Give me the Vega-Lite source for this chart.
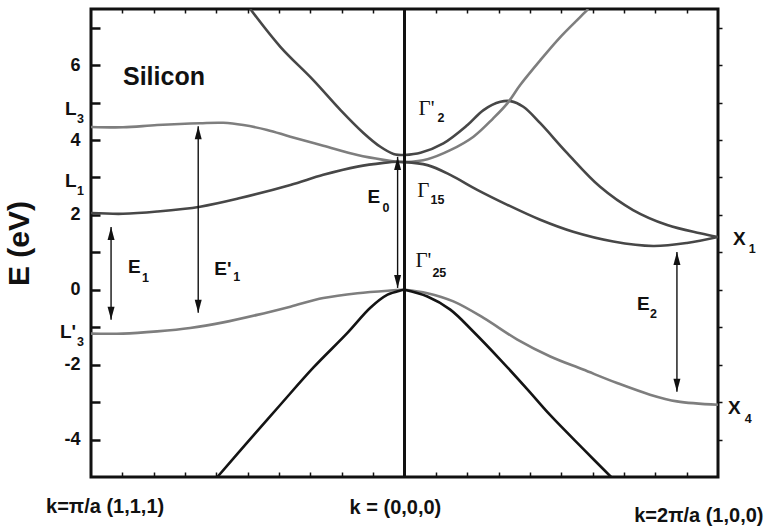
{
  "$schema": "https://vega.github.io/schema/vega-lite/v6.json",
  "width": 627,
  "height": 468,
  "autosize": {"type": "none"},
  "padding": {"left": 91, "top": 9, "right": 48, "bottom": 50},
  "background": "white",
  "config": {
    "view": {"stroke": "#111111", "strokeWidth": 3},
    "axis": {
      "domain": false,
      "grid": false,
      "tickColor": "#111111",
      "tickWidth": 1.5,
      "labelFont": "Liberation Sans",
      "labelFontWeight": "bold",
      "labelFontSize": 18,
      "labelColor": "#111111",
      "titleFont": "Liberation Sans",
      "titleColor": "#111111"
    }
  },
  "datasets": {
    "bands": [
      {"curve": "Lup", "shade": "dark", "k": -0.492, "E": 7.5},
      {"curve": "Lup", "shade": "dark", "k": -0.396, "E": 6.49},
      {"curve": "Lup", "shade": "dark", "k": -0.291, "E": 5.6},
      {"curve": "Lup", "shade": "dark", "k": -0.204, "E": 4.8},
      {"curve": "Lup", "shade": "dark", "k": -0.131, "E": 4.19},
      {"curve": "Lup", "shade": "dark", "k": -0.077, "E": 3.82},
      {"curve": "Lup", "shade": "dark", "k": -0.035, "E": 3.63},
      {"curve": "Lup", "shade": "dark", "k": 0, "E": 3.6},

      {"curve": "L3", "shade": "light", "k": -1, "E": 4.35},
      {"curve": "L3", "shade": "light", "k": -0.898, "E": 4.34},
      {"curve": "L3", "shade": "light", "k": -0.789, "E": 4.4},
      {"curve": "L3", "shade": "light", "k": -0.652, "E": 4.45},
      {"curve": "L3", "shade": "light", "k": -0.578, "E": 4.46},
      {"curve": "L3", "shade": "light", "k": -0.514, "E": 4.4},
      {"curve": "L3", "shade": "light", "k": -0.438, "E": 4.27},
      {"curve": "L3", "shade": "light", "k": -0.364, "E": 4.09},
      {"curve": "L3", "shade": "light", "k": -0.259, "E": 3.85},
      {"curve": "L3", "shade": "light", "k": -0.15, "E": 3.6},
      {"curve": "L3", "shade": "light", "k": -0.067, "E": 3.47},
      {"curve": "L3", "shade": "light", "k": -0.022, "E": 3.42},
      {"curve": "L3", "shade": "light", "k": 0, "E": 3.41},

      {"curve": "L1", "shade": "dark", "k": -1, "E": 2.05},
      {"curve": "L1", "shade": "dark", "k": -0.898, "E": 2.03},
      {"curve": "L1", "shade": "dark", "k": -0.789, "E": 2.09},
      {"curve": "L1", "shade": "dark", "k": -0.652, "E": 2.22},
      {"curve": "L1", "shade": "dark", "k": -0.524, "E": 2.45},
      {"curve": "L1", "shade": "dark", "k": -0.364, "E": 2.8},
      {"curve": "L1", "shade": "dark", "k": -0.259, "E": 3.07},
      {"curve": "L1", "shade": "dark", "k": -0.15, "E": 3.29},
      {"curve": "L1", "shade": "dark", "k": -0.067, "E": 3.39},
      {"curve": "L1", "shade": "dark", "k": -0.022, "E": 3.42},
      {"curve": "L1", "shade": "dark", "k": 0, "E": 3.41},

      {"curve": "L3p", "shade": "light", "k": -1, "E": -1.17},
      {"curve": "L3p", "shade": "light", "k": -0.898, "E": -1.17},
      {"curve": "L3p", "shade": "light", "k": -0.789, "E": -1.11},
      {"curve": "L3p", "shade": "light", "k": -0.684, "E": -1.02},
      {"curve": "L3p", "shade": "light", "k": -0.578, "E": -0.87},
      {"curve": "L3p", "shade": "light", "k": -0.47, "E": -0.67},
      {"curve": "L3p", "shade": "light", "k": -0.364, "E": -0.45},
      {"curve": "L3p", "shade": "light", "k": -0.259, "E": -0.22},
      {"curve": "L3p", "shade": "light", "k": -0.15, "E": -0.09},
      {"curve": "L3p", "shade": "light", "k": -0.045, "E": -0.02},
      {"curve": "L3p", "shade": "light", "k": 0, "E": 0},

      {"curve": "Lv", "shade": "black", "k": -0.597, "E": -5.0},
      {"curve": "Lv", "shade": "black", "k": -0.502, "E": -4.08},
      {"curve": "Lv", "shade": "black", "k": -0.396, "E": -3.07},
      {"curve": "Lv", "shade": "black", "k": -0.291, "E": -2.08},
      {"curve": "Lv", "shade": "black", "k": -0.182, "E": -1.15},
      {"curve": "Lv", "shade": "black", "k": -0.109, "E": -0.48},
      {"curve": "Lv", "shade": "black", "k": -0.054, "E": -0.13},
      {"curve": "Lv", "shade": "black", "k": -0.013, "E": -0.02},
      {"curve": "Lv", "shade": "black", "k": 0, "E": 0},

      {"curve": "Rg2", "shade": "dark", "k": 0, "E": 3.6},
      {"curve": "Rg2", "shade": "dark", "k": 0.051, "E": 3.66},
      {"curve": "Rg2", "shade": "dark", "k": 0.124, "E": 3.91},
      {"curve": "Rg2", "shade": "dark", "k": 0.201, "E": 4.4},
      {"curve": "Rg2", "shade": "dark", "k": 0.252, "E": 4.8},
      {"curve": "Rg2", "shade": "dark", "k": 0.306, "E": 5.02},
      {"curve": "Rg2", "shade": "dark", "k": 0.338, "E": 5.04},
      {"curve": "Rg2", "shade": "dark", "k": 0.379, "E": 4.89},
      {"curve": "Rg2", "shade": "dark", "k": 0.433, "E": 4.45},
      {"curve": "Rg2", "shade": "dark", "k": 0.519, "E": 3.65},
      {"curve": "Rg2", "shade": "dark", "k": 0.624, "E": 2.75},
      {"curve": "Rg2", "shade": "dark", "k": 0.729, "E": 2.13},
      {"curve": "Rg2", "shade": "dark", "k": 0.838, "E": 1.73},
      {"curve": "Rg2", "shade": "dark", "k": 0.943, "E": 1.51},
      {"curve": "Rg2", "shade": "dark", "k": 1, "E": 1.41},

      {"curve": "Rg15u", "shade": "light", "k": 0, "E": 3.41},
      {"curve": "Rg15u", "shade": "light", "k": 0.073, "E": 3.49},
      {"curve": "Rg15u", "shade": "light", "k": 0.146, "E": 3.73},
      {"curve": "Rg15u", "shade": "light", "k": 0.22, "E": 4.09},
      {"curve": "Rg15u", "shade": "light", "k": 0.283, "E": 4.58},
      {"curve": "Rg15u", "shade": "light", "k": 0.328, "E": 4.98},
      {"curve": "Rg15u", "shade": "light", "k": 0.369, "E": 5.47},
      {"curve": "Rg15u", "shade": "light", "k": 0.433, "E": 6.13},
      {"curve": "Rg15u", "shade": "light", "k": 0.497, "E": 6.75},
      {"curve": "Rg15u", "shade": "light", "k": 0.561, "E": 7.29},
      {"curve": "Rg15u", "shade": "light", "k": 0.586, "E": 7.5},

      {"curve": "Rg15d", "shade": "dark", "k": 0, "E": 3.41},
      {"curve": "Rg15d", "shade": "dark", "k": 0.073, "E": 3.33},
      {"curve": "Rg15d", "shade": "dark", "k": 0.146, "E": 3.07},
      {"curve": "Rg15d", "shade": "dark", "k": 0.232, "E": 2.67},
      {"curve": "Rg15d", "shade": "dark", "k": 0.328, "E": 2.27},
      {"curve": "Rg15d", "shade": "dark", "k": 0.433, "E": 1.87},
      {"curve": "Rg15d", "shade": "dark", "k": 0.538, "E": 1.55},
      {"curve": "Rg15d", "shade": "dark", "k": 0.666, "E": 1.29},
      {"curve": "Rg15d", "shade": "dark", "k": 0.793, "E": 1.17},
      {"curve": "Rg15d", "shade": "dark", "k": 0.901, "E": 1.25},
      {"curve": "Rg15d", "shade": "dark", "k": 1, "E": 1.41},

      {"curve": "Rg25", "shade": "light", "k": 0, "E": 0},
      {"curve": "Rg25", "shade": "light", "k": 0.073, "E": -0.09},
      {"curve": "Rg25", "shade": "light", "k": 0.156, "E": -0.31},
      {"curve": "Rg25", "shade": "light", "k": 0.252, "E": -0.75},
      {"curve": "Rg25", "shade": "light", "k": 0.36, "E": -1.33},
      {"curve": "Rg25", "shade": "light", "k": 0.465, "E": -1.78},
      {"curve": "Rg25", "shade": "light", "k": 0.57, "E": -2.13},
      {"curve": "Rg25", "shade": "light", "k": 0.678, "E": -2.49},
      {"curve": "Rg25", "shade": "light", "k": 0.783, "E": -2.8},
      {"curve": "Rg25", "shade": "light", "k": 0.869, "E": -2.98},
      {"curve": "Rg25", "shade": "light", "k": 1, "E": -3.07},

      {"curve": "Rv", "shade": "black", "k": 0, "E": 0},
      {"curve": "Rv", "shade": "black", "k": 0.073, "E": -0.18},
      {"curve": "Rv", "shade": "black", "k": 0.146, "E": -0.53},
      {"curve": "Rv", "shade": "black", "k": 0.22, "E": -1.12},
      {"curve": "Rv", "shade": "black", "k": 0.306, "E": -1.87},
      {"curve": "Rv", "shade": "black", "k": 0.392, "E": -2.66},
      {"curve": "Rv", "shade": "black", "k": 0.465, "E": -3.35},
      {"curve": "Rv", "shade": "black", "k": 0.57, "E": -4.25},
      {"curve": "Rv", "shade": "black", "k": 0.659, "E": -5.0}
    ],
    "arrows": [
      {"name": "E1", "k": -0.936, "E": 1.68, "E2": -0.8},
      {"name": "E'1", "k": -0.658, "E": 4.37, "E2": -0.61},
      {"name": "E0", "k": -0.022, "E": 3.55, "E2": 0.05},
      {"name": "E2", "k": 0.869, "E": 1.01, "E2": -2.72}
    ],
    "labels": [
      {"text": "Silicon", "k": -0.898, "E": 5.47, "kind": "title"},
      {"text": "L", "k": -1.083, "E": 4.67, "kind": "main"},
      {"text": "3", "k": -1.045, "E": 4.45, "kind": "sub"},
      {"text": "L", "k": -1.083, "E": 2.75, "kind": "main"},
      {"text": "1", "k": -1.045, "E": 2.53, "kind": "sub"},
      {"text": "L'", "k": -1.099, "E": -1.28, "kind": "main"},
      {"text": "3", "k": -1.045, "E": -1.49, "kind": "sub"},
      {"text": "E", "k": -0.882, "E": 0.45, "kind": "main"},
      {"text": "1", "k": -0.837, "E": 0.21, "kind": "sub"},
      {"text": "E'", "k": -0.607, "E": 0.4, "kind": "main"},
      {"text": "1", "k": -0.546, "E": 0.24, "kind": "sub"},
      {"text": "E", "k": -0.118, "E": 2.32, "kind": "main"},
      {"text": "0", "k": -0.07, "E": 2.08, "kind": "sub"},
      {"text": "E", "k": 0.742, "E": -0.53, "kind": "main"},
      {"text": "2", "k": 0.783, "E": -0.75, "kind": "sub"},
      {"text": "Γ'", "k": 0.045, "E": 4.67, "kind": "gamma"},
      {"text": "2", "k": 0.105, "E": 4.48, "kind": "sub"},
      {"text": "Γ", "k": 0.041, "E": 2.48, "kind": "gamma"},
      {"text": "15", "k": 0.083, "E": 2.29, "kind": "sub"},
      {"text": "Γ'", "k": 0.035, "E": 0.61, "kind": "gamma"},
      {"text": "25", "k": 0.089, "E": 0.35, "kind": "sub"},
      {"text": "X", "k": 1.048, "E": 1.2, "kind": "main"},
      {"text": "1", "k": 1.098, "E": 0.99, "kind": "sub"},
      {"text": "X", "k": 1.032, "E": -3.33, "kind": "main"},
      {"text": "4", "k": 1.085, "E": -3.57, "kind": "sub"},
      {"text": "k=π/a (1,1,1)", "k": -0.955, "E": -5.95, "kind": "klabel"},
      {"text": "k = (0,0,0)", "k": -0.029, "E": -6.0, "kind": "klabel"},
      {"text": "k=2π/a (1,0,0)", "k": 0.939, "E": -6.21, "kind": "klabel"}
    ]
  },
  "resolve": {"axis": {"x": "independent", "y": "independent"}},
  "encoding": {
    "x": {"field": "k", "type": "quantitative", "scale": {"domain": [-1, 1], "nice": false, "zero": false}, "axis": null},
    "y": {"field": "E", "type": "quantitative", "scale": {"domain": [-5, 7.5], "nice": false, "zero": false}, "axis": null}
  },
  "layer": [
    {
      "data": {"name": "bands"},
      "mark": {"type": "line", "interpolate": "catmull-rom", "strokeWidth": 2.6, "clip": true},
      "encoding": {
        "x": {
          "field": "k", "type": "quantitative",
          "scale": {"domain": [-1, 1], "nice": false, "zero": false},
          "axis": {
            "orient": "bottom", "title": null, "labels": false,
            "values": [-0.9, -0.8, -0.7, -0.6, -0.5, -0.4, -0.3, -0.2, -0.1, 0.1, 0.2, 0.3, 0.4, 0.5, 0.6, 0.7, 0.8, 0.9],
            "tickSize": -5
          }
        },
        "y": {
          "field": "E", "type": "quantitative",
          "scale": {"domain": [-5, 7.5], "nice": false, "zero": false},
          "axis": {
            "orient": "left",
            "values": [-4, -3, -2, -1, 0, 1, 2, 3, 4, 5, 6, 7],
            "labelExpr": "datum.value % 2 === 0 ? '' + datum.value : ''",
            "tickSize": -9,
            "tickWidth": 2.5,
            "labelPadding": 20,
            "title": "E (eV)",
            "titleFontSize": 30,
            "titleFontWeight": "bold",
            "titlePadding": 29
          }
        },
        "color": {
          "field": "shade", "type": "nominal",
          "scale": {"domain": ["dark", "light", "black"], "range": ["#474747", "#7e7e7e", "#141414"]},
          "legend": null
        },
        "detail": {"field": "curve"}
      }
    },
    {
      "data": {"values": [{"k": 0, "E": 7.5, "E2": -5}]},
      "mark": {"type": "rule", "color": "#111111", "strokeWidth": 3},
      "encoding": {
        "x": {
          "field": "k", "type": "quantitative",
          "scale": {"domain": [-1, 1], "nice": false, "zero": false},
          "axis": {
            "orient": "top", "title": null, "labels": false,
            "values": [-0.9, -0.8, -0.7, -0.6, -0.5, -0.4, -0.3, -0.2, -0.1, 0.1, 0.2, 0.3, 0.4, 0.5, 0.6, 0.7, 0.8, 0.9],
            "tickSize": -4
          }
        },
        "y": {
          "field": "E", "type": "quantitative",
          "scale": {"domain": [-5, 7.5], "nice": false, "zero": false},
          "axis": {
            "orient": "right", "title": null, "labels": false,
            "values": [-4, -3, -2, -1, 0, 1, 2, 3, 4, 5, 6, 7],
            "tickSize": 4
          }
        },
        "y2": {"field": "E2"}
      }
    },
    {
      "data": {"name": "arrows"},
      "mark": {"type": "rule", "color": "#111111", "strokeWidth": 1.4},
      "encoding": {"y2": {"field": "E2"}}
    },
    {
      "data": {"name": "arrows"},
      "mark": {"type": "point", "shape": "M0,0 L-0.35,1.3 L0.35,1.3 Z", "size": 400, "filled": true, "opacity": 1, "color": "#111111", "strokeWidth": 0}
    },
    {
      "data": {"name": "arrows"},
      "mark": {"type": "point", "shape": "M0,0 L-0.35,-1.3 L0.35,-1.3 Z", "size": 400, "filled": true, "opacity": 1, "color": "#111111", "strokeWidth": 0},
      "encoding": {
        "y": {"field": "E2", "type": "quantitative", "scale": {"domain": [-5, 7.5], "nice": false, "zero": false}, "axis": null}
      }
    },
    {
      "data": {"name": "labels"},
      "transform": [{"filter": "datum.kind === 'title'"}],
      "mark": {"type": "text", "align": "left", "baseline": "alphabetic", "font": "Liberation Sans", "fontWeight": "bold", "fontSize": 25, "color": "#111111"},
      "encoding": {"text": {"field": "text"}}
    },
    {
      "data": {"name": "labels"},
      "transform": [{"filter": "datum.kind === 'main'"}],
      "mark": {"type": "text", "align": "left", "baseline": "alphabetic", "font": "Liberation Sans", "fontWeight": "bold", "fontSize": 19, "color": "#111111"},
      "encoding": {"text": {"field": "text"}}
    },
    {
      "data": {"name": "labels"},
      "transform": [{"filter": "datum.kind === 'sub'"}],
      "mark": {"type": "text", "align": "left", "baseline": "alphabetic", "font": "Liberation Sans", "fontWeight": "bold", "fontSize": 12.5, "color": "#111111"},
      "encoding": {"text": {"field": "text"}}
    },
    {
      "data": {"name": "labels"},
      "transform": [{"filter": "datum.kind === 'gamma'"}],
      "mark": {"type": "text", "align": "left", "baseline": "alphabetic", "font": "Liberation Serif", "fontSize": 21, "color": "#111111"},
      "encoding": {"text": {"field": "text"}}
    },
    {
      "data": {"name": "labels"},
      "transform": [{"filter": "datum.kind === 'klabel'"}],
      "mark": {"type": "text", "align": "center", "baseline": "alphabetic", "font": "Liberation Sans", "fontWeight": "bold", "fontSize": 20, "color": "#111111"},
      "encoding": {"text": {"field": "text"}}
    }
  ]
}
